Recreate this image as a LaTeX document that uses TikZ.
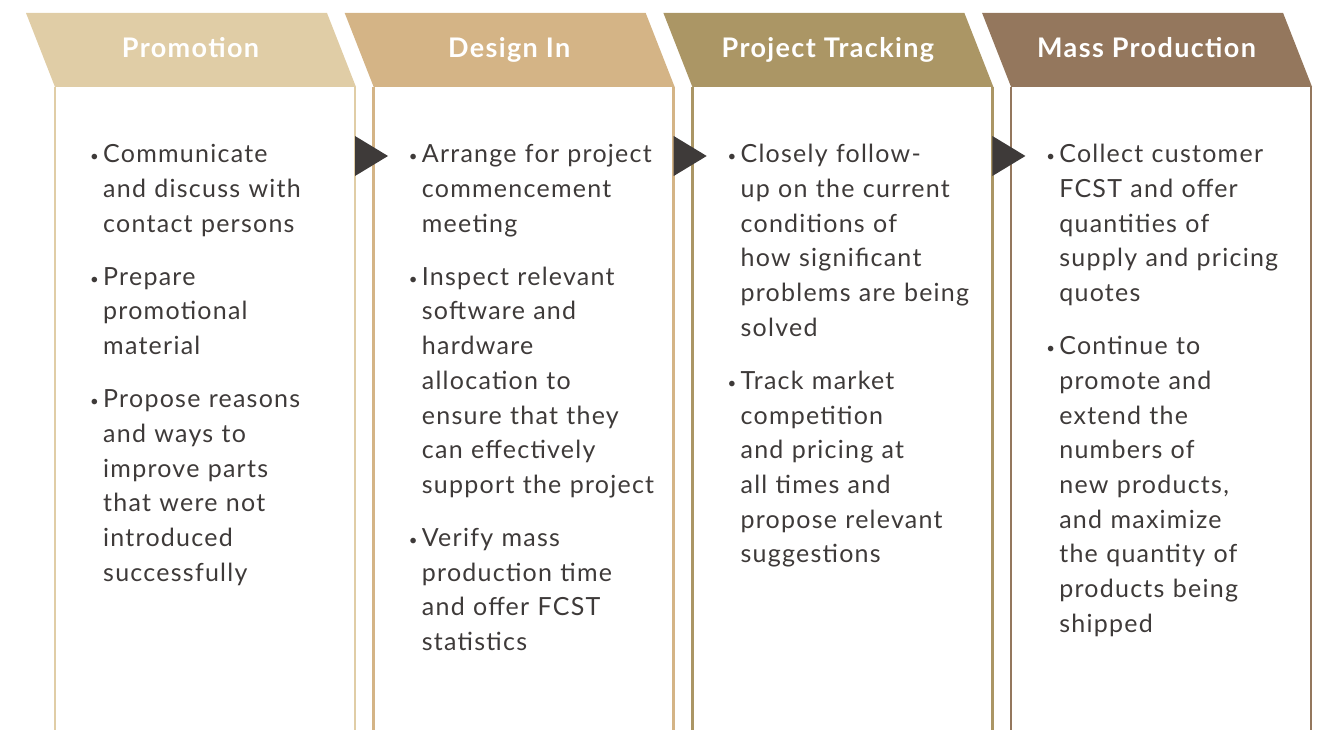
\documentclass[tikz,border=0pt]{standalone}
\usepackage{fontspec}
\setmainfont{Lato}[LetterSpace=5]
\definecolor{cA}{HTML}{E0CDA6}
\definecolor{cB}{HTML}{D4B486}
\definecolor{cC}{HTML}{AB9665}
\definecolor{cD}{HTML}{94775D}
\definecolor{txt}{HTML}{3E3A39}
\newcommand\bitem[1]{\par\noindent\makebox[13pt][l]{\raisebox{1pt}{\fontsize{15}{15}\selectfont\textbullet}}\parbox[t]{260pt}{\raggedright\strut #1\strut}\par}
\newcommand\gapitem{\vspace{17.3pt}}
\tikzset{
  hdrtext/.style={text=white, font=\fontsize{27}{30}\selectfont\bfseries, inner sep=0pt, anchor=base},
  body/.style={text=txt, font=\fontsize{25}{34.7}\selectfont, inner sep=0pt, text width=275pt, align=left, anchor=north west},
  frame/.style={draw=#1, line width=2.5pt},
  arrowtri/.style={fill=txt, draw=none}
}
\begin{document}
\begin{tikzpicture}[x=1pt,y=-1pt]
\useasboundingbox (0,0) rectangle (1326,730);
\foreach \k/\c in {0/cA,1/cB,2/cC,3/cD}{
  \pgfmathsetmacro{\xo}{55+318.7*\k}
  \fill[\c] (\xo-29,13) -- (\xo+272,13) -- (\xo+301,87) -- (\xo,87) -- cycle;
  \draw[frame=\c] (\xo,87) -- (\xo,731) (\xo+300,87) -- (\xo+300,731);
  \coordinate (b\k) at (\xo,87);
}
\node[hdrtext] (h1) at (190.5,58) {Promotion};
\node[hdrtext] (h2) at (509.2,58) {Design In};
\node[hdrtext] (h3) at (827.9,58) {Project Tracking};
\node[hdrtext] (h4) at (1146.6,58) {Mass Production};
\foreach \k in {0,1,2}{
  \fill[arrowtri] ([xshift=300pt,yshift=-49pt]b\k) -- ++(0,40) -- ++(33,-20) -- cycle;
}
\node[body] (t1) at (90,128) {\bitem{Communicate\\and discuss with\\contact persons}\gapitem
\bitem{Prepare\\promotional\\material}\gapitem
\bitem{Propose reasons\\and ways to\\improve parts\\that were not\\introduced\\successfully}};
\node[body] (t2) at (408.7,128) {\bitem{Arrange for project\\commencement\\meeting}\gapitem
\bitem{Inspect relevant\\software and\\hardware\\allocation to\\ensure that they\\can effectively\\support the project}\gapitem
\bitem{Verify mass\\production time\\and offer FCST\\statistics}};
\node[body] (t3) at (727.4,128) {\bitem{Closely follow-\\up on the current\\conditions of\\how significant\\problems are being\\solved}\gapitem
\bitem{Track market\\competition\\and pricing at\\all times and\\propose relevant\\suggestions}};
\node[body] (t4) at (1046.1,128) {\bitem{Collect customer\\FCST and offer\\quantities of\\supply and pricing\\quotes}\gapitem
\bitem{Continue to\\promote and\\extend the\\numbers of\\new products,\\and maximize\\the quantity of\\products being\\shipped}};
\end{tikzpicture}
\end{document}
